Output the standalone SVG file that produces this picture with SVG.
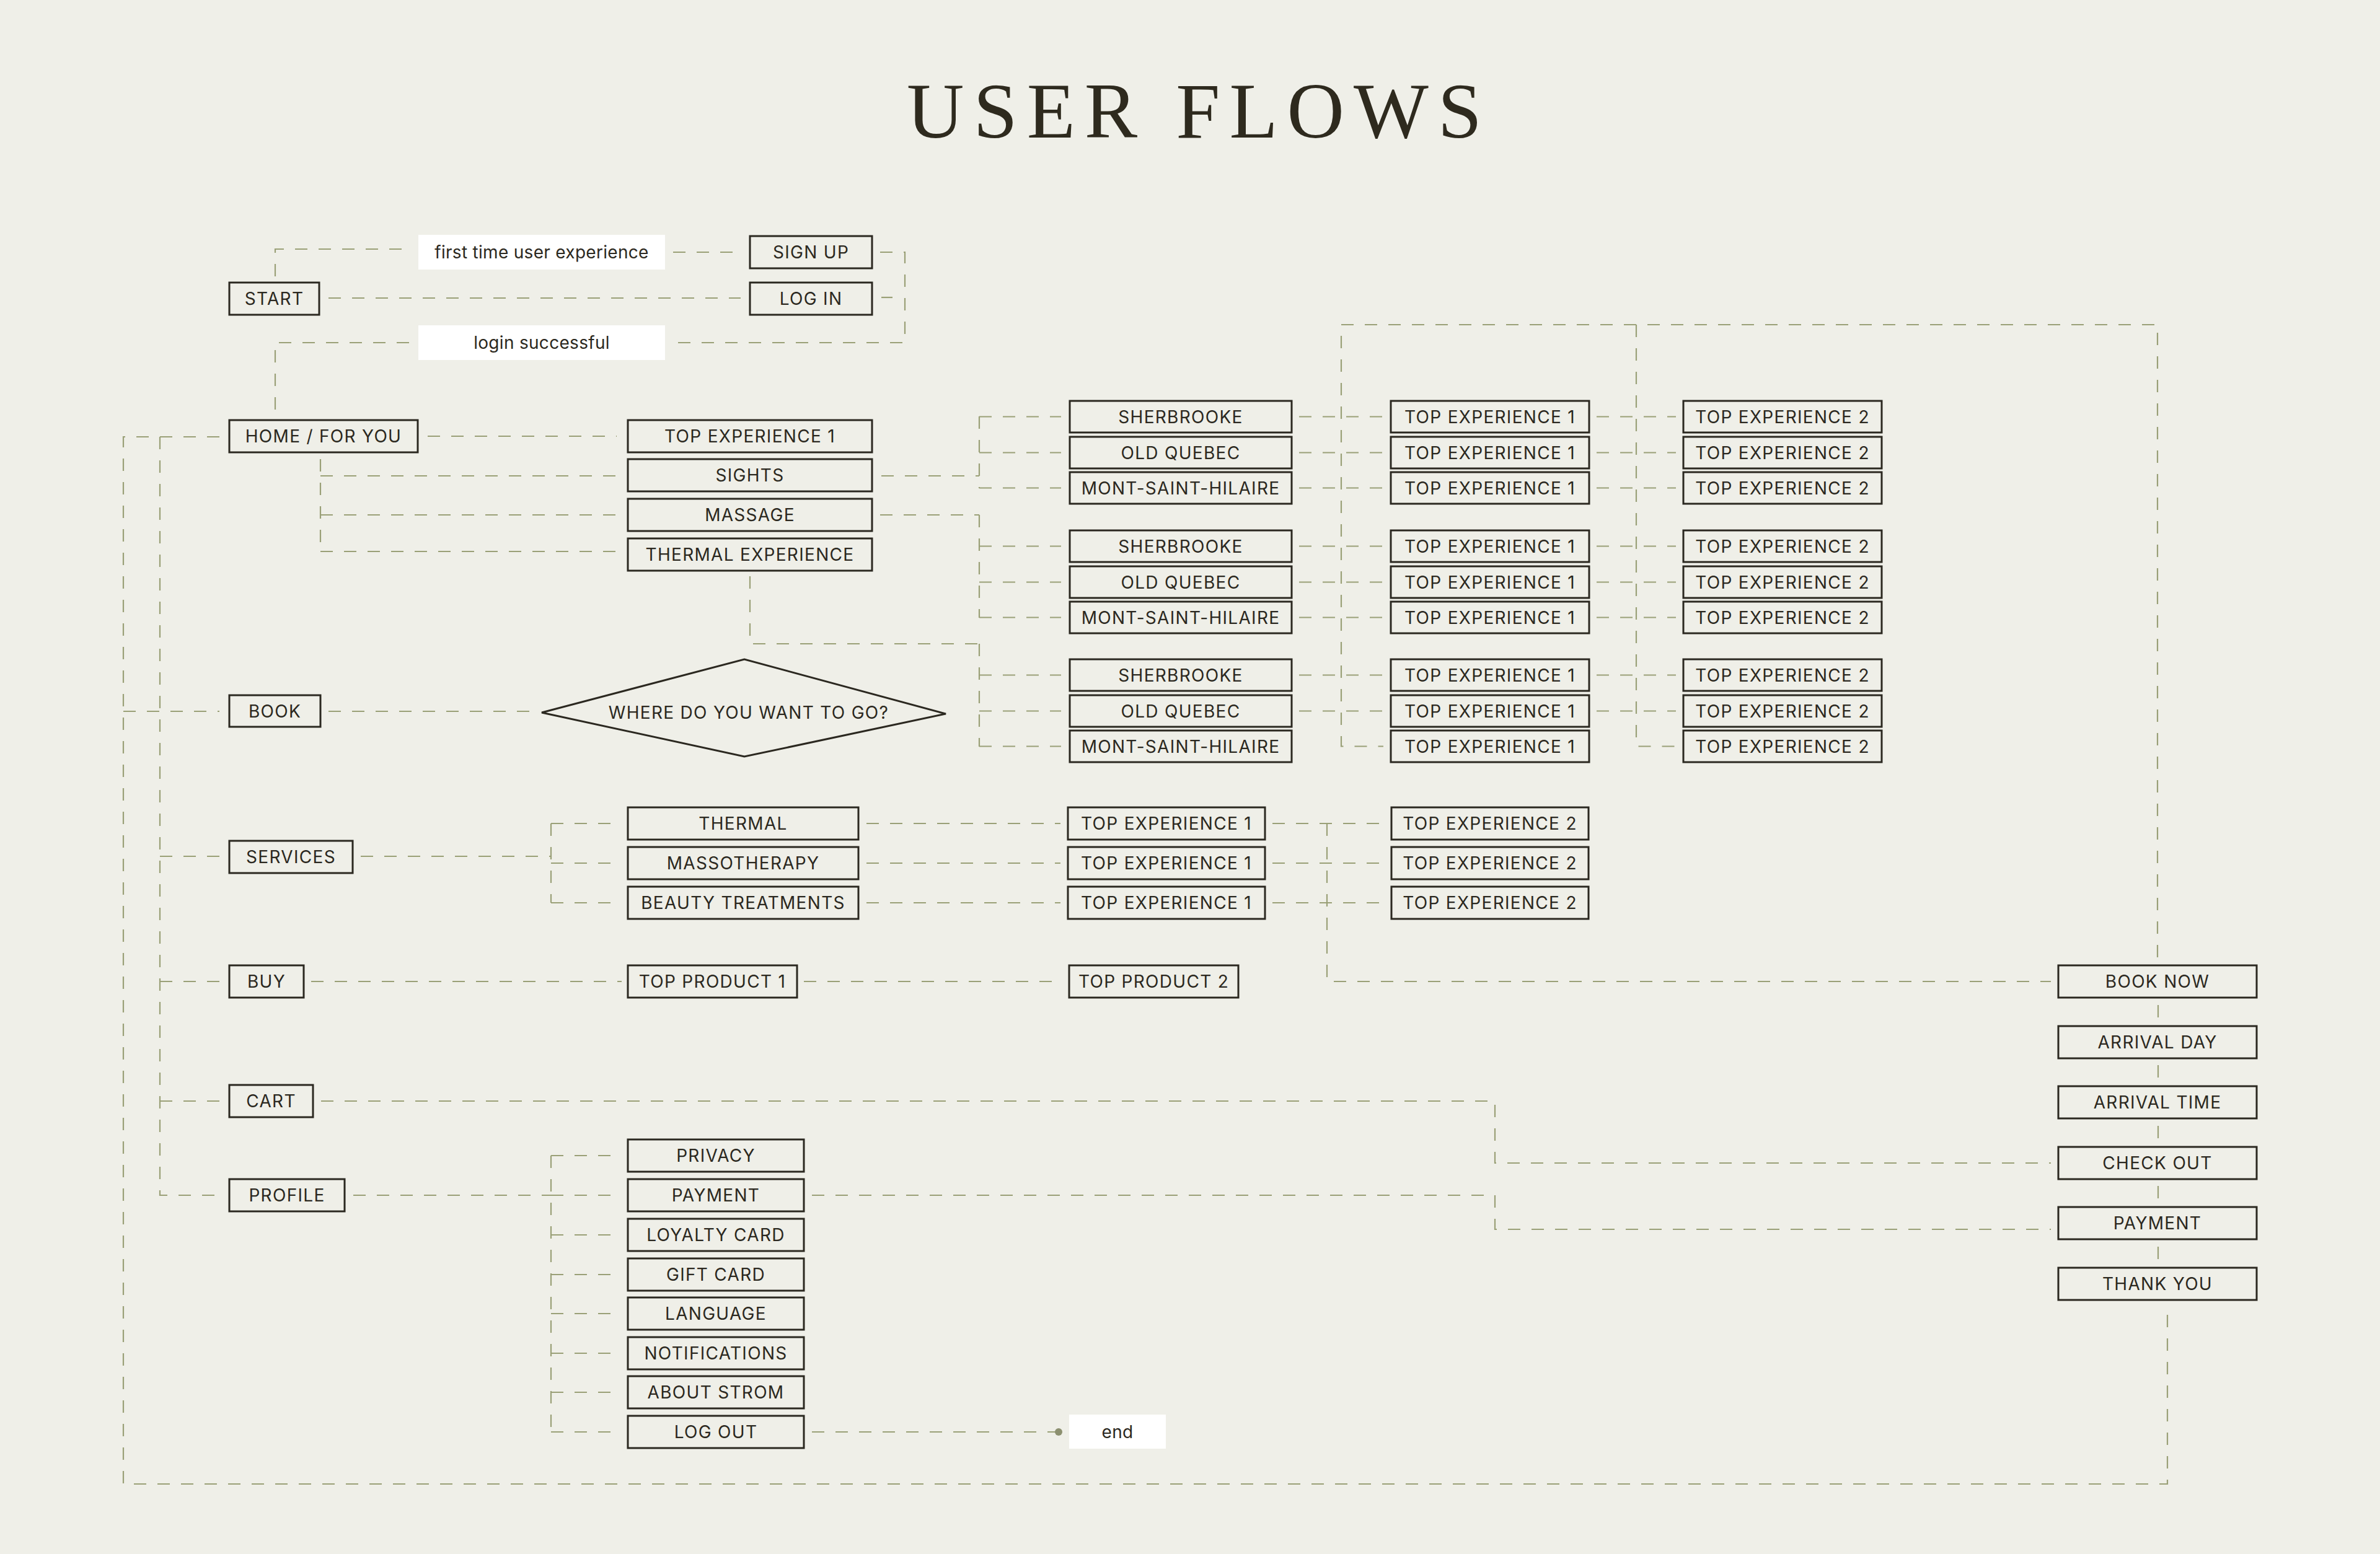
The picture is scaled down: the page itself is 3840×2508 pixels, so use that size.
<svg xmlns="http://www.w3.org/2000/svg" width="3840" height="2508" viewBox="0 0 3840 2508">
<style>
.bg{fill:#efefe8}
.n rect{fill:#efefe8;stroke:#2b2820;stroke-width:3}
.n polygon{fill:#efefe8;stroke:#2b2820;stroke-width:3}
.n text,.lab text{font-family:Inter,"Noto Sans","Liberation Sans",sans-serif;font-size:28px;fill:#2b2820;text-anchor:middle;letter-spacing:1.3px}
.lab rect{fill:#ffffff}
.lab text{letter-spacing:0.3px}
.c path{fill:none;stroke:#9aa077;stroke-width:2.2;stroke-dasharray:20 18}
.title{font-family:"Liberation Serif","DejaVu Serif",serif;font-size:128px;fill:#2e2a1e;letter-spacing:15px}
</style>
<rect class="bg" x="0" y="0" width="3840" height="2508"/>
<text class="title" x="1463" y="222">USER FLOWS</text>

<g class="c" id="connectors">
<path d="M444,446 V402 H660"/>
<path d="M1086,407 H1195"/>
<path d="M530,481 H1195"/>
<path d="M1420,407 H1460 V553 H1086"/>
<path d="M1422,480 H1440"/>
<path d="M660,553 H444 V668"/>
<path d="M690,704 H995"/>
<path d="M517,741 V890"/>
<path d="M517,768 H995"/>
<path d="M517,831 H995"/>
<path d="M517,890 H995"/>
<path d="M1422,768 H1580"/>
<path d="M1420,831 H1580"/>
<path d="M1210,930 V1039 H1580"/>
<path d="M1580,672 V788"/>
<path d="M1580,831 V997"/>
<path d="M1580,1039 V1205"/>
<path d="M1580,672.5 H1712 M1580,730.5 H1712 M1580,787.5 H1712 M1580,881.5 H1712 M1580,939.5 H1712 M1580,996.5 H1712 M1580,1089.5 H1712 M1580,1147.5 H1712 M1580,1204.5 H1712"/>
<path d="M2096,672.5 H2232 M2096,730.5 H2232 M2096,787.5 H2232 M2096,881.5 H2232 M2096,939.5 H2232 M2096,996.5 H2232 M2096,1089.5 H2232 M2096,1147.5 H2232"/>
<path d="M2576,672.5 H2704 M2576,730.5 H2704 M2576,787.5 H2704 M2576,881.5 H2704 M2576,939.5 H2704 M2576,996.5 H2704 M2576,1089.5 H2704 M2576,1147.5 H2704"/>
<path d="M3481,1545 V524 H2164 V1204.5 H2232"/>
<path d="M2640,524 V1204.5 H2704"/>
<path d="M354,705 H199 V2395 H3497 V2110"/>
<path d="M258,705 V1929 H354"/>
<path d="M199,1148 H354"/>
<path d="M258,1382 H356"/>
<path d="M258,1584 H356"/>
<path d="M258,1777 H356"/>
<path d="M530,1148 H862"/>
<path d="M582,1382 H889"/>
<path d="M889,1329 V1457"/>
<path d="M889,1329 H1003 M889,1393 H1003 M889,1457 H1003"/>
<path d="M1398,1329 H1711 M1398,1393 H1711 M1398,1457 H1711"/>
<path d="M2053,1329 H2233 M2053,1393 H2233 M2053,1457 H2233"/>
<path d="M2141,1329 V1584 H3309"/>
<path d="M502,1584 H1003"/>
<path d="M1297,1584 H1714"/>
<path d="M3482,1622 V1646 M3482,1719 V1743 M3482,1817 V1841 M3482,1914 V1938 M3482,2012 V2036"/>
<path d="M518,1777 H2412 V1877 H3309"/>
<path d="M570,1929 H889"/>
<path d="M889,1865 V2311"/>
<path d="M889,1865 H1001 M889,1929 H1001 M889,1993 H1001 M889,2057 H1001 M889,2120 H1001 M889,2184 H1001 M889,2247 H1001 M889,2311 H1001"/>
<path d="M1310,1929 H2412 V1984 H3309"/>
<path d="M1310,2311 H1708"/>
<circle cx="1708" cy="2311" r="6" fill="#8c9070"/>
</g>

<g class="lab" id="lbl-first"><rect x="675" y="379" width="398" height="56"/><text x="874" y="417">first time user experience</text></g>
<g class="lab" id="lbl-login"><rect x="675" y="525" width="398" height="56"/><text x="874" y="563">login successful</text></g>
<g class="lab" id="lbl-end"><rect x="1725" y="2283" width="156" height="55"/><text x="1803" y="2321">end</text></g>

<g class="n" id="start"><rect x="370" y="456" width="145" height="52"/><text x="442.5" y="492">START</text></g>
<g class="n" id="signup"><rect x="1210" y="381" width="197" height="52"/><text x="1308.5" y="417">SIGN UP</text></g>
<g class="n" id="loginbox"><rect x="1210" y="456" width="197" height="52"/><text x="1308.5" y="492">LOG IN</text></g>
<g class="n" id="home"><rect x="370" y="678" width="304" height="52"/><text x="522" y="714">HOME / FOR YOU</text></g>
<g class="n" id="home-top1"><rect x="1013" y="678" width="394" height="52"/><text x="1210" y="714">TOP EXPERIENCE 1</text></g>
<g class="n" id="sights"><rect x="1013" y="741" width="394" height="52"/><text x="1210" y="777">SIGHTS</text></g>
<g class="n" id="massage"><rect x="1013" y="805" width="394" height="52"/><text x="1210" y="841">MASSAGE</text></g>
<g class="n" id="thermalexp"><rect x="1013" y="869" width="394" height="52"/><text x="1210" y="905">THERMAL EXPERIENCE</text></g>
<g class="n" id="book"><rect x="370" y="1122" width="147" height="51"/><text x="443.5" y="1158">BOOK</text></g>
<g class="n" id="where"><polygon points="874,1150 1201,1064 1526,1152 1201,1221"/><text x="1208" y="1160">WHERE DO YOU WANT TO GO?</text></g>

<g class="n" id="g1-sher"><rect x="1726" y="647" width="358" height="51"/><text x="1905" y="682.5">SHERBROOKE</text></g>
<g class="n" id="g1-oq"><rect x="1726" y="705" width="358" height="51"/><text x="1905" y="740.5">OLD QUEBEC</text></g>
<g class="n" id="g1-msh"><rect x="1726" y="762" width="358" height="51"/><text x="1905" y="797.5">MONT-SAINT-HILAIRE</text></g>
<g class="n" id="g2-sher"><rect x="1726" y="856" width="358" height="51"/><text x="1905" y="891.5">SHERBROOKE</text></g>
<g class="n" id="g2-oq"><rect x="1726" y="914" width="358" height="51"/><text x="1905" y="949.5">OLD QUEBEC</text></g>
<g class="n" id="g2-msh"><rect x="1726" y="971" width="358" height="51"/><text x="1905" y="1006.5">MONT-SAINT-HILAIRE</text></g>
<g class="n" id="g3-sher"><rect x="1726" y="1064" width="358" height="51"/><text x="1905" y="1099.5">SHERBROOKE</text></g>
<g class="n" id="g3-oq"><rect x="1726" y="1122" width="358" height="51"/><text x="1905" y="1157.5">OLD QUEBEC</text></g>
<g class="n" id="g3-msh"><rect x="1726" y="1179" width="358" height="51"/><text x="1905" y="1214.5">MONT-SAINT-HILAIRE</text></g>

<g class="n" id="g1-te1a"><rect x="2244" y="647" width="320" height="51"/><text x="2404" y="682.5">TOP EXPERIENCE 1</text></g>
<g class="n" id="g1-te1b"><rect x="2244" y="705" width="320" height="51"/><text x="2404" y="740.5">TOP EXPERIENCE 1</text></g>
<g class="n" id="g1-te1c"><rect x="2244" y="762" width="320" height="51"/><text x="2404" y="797.5">TOP EXPERIENCE 1</text></g>
<g class="n" id="g2-te1a"><rect x="2244" y="856" width="320" height="51"/><text x="2404" y="891.5">TOP EXPERIENCE 1</text></g>
<g class="n" id="g2-te1b"><rect x="2244" y="914" width="320" height="51"/><text x="2404" y="949.5">TOP EXPERIENCE 1</text></g>
<g class="n" id="g2-te1c"><rect x="2244" y="971" width="320" height="51"/><text x="2404" y="1006.5">TOP EXPERIENCE 1</text></g>
<g class="n" id="g3-te1a"><rect x="2244" y="1064" width="320" height="51"/><text x="2404" y="1099.5">TOP EXPERIENCE 1</text></g>
<g class="n" id="g3-te1b"><rect x="2244" y="1122" width="320" height="51"/><text x="2404" y="1157.5">TOP EXPERIENCE 1</text></g>
<g class="n" id="g3-te1c"><rect x="2244" y="1179" width="320" height="51"/><text x="2404" y="1214.5">TOP EXPERIENCE 1</text></g>

<g class="n" id="g1-te2a"><rect x="2716" y="647" width="320" height="51"/><text x="2876" y="682.5">TOP EXPERIENCE 2</text></g>
<g class="n" id="g1-te2b"><rect x="2716" y="705" width="320" height="51"/><text x="2876" y="740.5">TOP EXPERIENCE 2</text></g>
<g class="n" id="g1-te2c"><rect x="2716" y="762" width="320" height="51"/><text x="2876" y="797.5">TOP EXPERIENCE 2</text></g>
<g class="n" id="g2-te2a"><rect x="2716" y="856" width="320" height="51"/><text x="2876" y="891.5">TOP EXPERIENCE 2</text></g>
<g class="n" id="g2-te2b"><rect x="2716" y="914" width="320" height="51"/><text x="2876" y="949.5">TOP EXPERIENCE 2</text></g>
<g class="n" id="g2-te2c"><rect x="2716" y="971" width="320" height="51"/><text x="2876" y="1006.5">TOP EXPERIENCE 2</text></g>
<g class="n" id="g3-te2a"><rect x="2716" y="1064" width="320" height="51"/><text x="2876" y="1099.5">TOP EXPERIENCE 2</text></g>
<g class="n" id="g3-te2b"><rect x="2716" y="1122" width="320" height="51"/><text x="2876" y="1157.5">TOP EXPERIENCE 2</text></g>
<g class="n" id="g3-te2c"><rect x="2716" y="1179" width="320" height="51"/><text x="2876" y="1214.5">TOP EXPERIENCE 2</text></g>

<g class="n" id="services"><rect x="370" y="1357" width="199" height="52"/><text x="469.5" y="1393">SERVICES</text></g>
<g class="n" id="thermal"><rect x="1013" y="1303" width="372" height="52"/><text x="1199" y="1339">THERMAL</text></g>
<g class="n" id="masso"><rect x="1013" y="1367" width="372" height="52"/><text x="1199" y="1403">MASSOTHERAPY</text></g>
<g class="n" id="beauty"><rect x="1013" y="1431" width="372" height="52"/><text x="1199" y="1467">BEAUTY TREATMENTS</text></g>
<g class="n" id="s-te1a"><rect x="1723" y="1303" width="318" height="52"/><text x="1882" y="1339">TOP EXPERIENCE 1</text></g>
<g class="n" id="s-te1b"><rect x="1723" y="1367" width="318" height="52"/><text x="1882" y="1403">TOP EXPERIENCE 1</text></g>
<g class="n" id="s-te1c"><rect x="1723" y="1431" width="318" height="52"/><text x="1882" y="1467">TOP EXPERIENCE 1</text></g>
<g class="n" id="s-te2a"><rect x="2245" y="1303" width="318" height="52"/><text x="2404" y="1339">TOP EXPERIENCE 2</text></g>
<g class="n" id="s-te2b"><rect x="2245" y="1367" width="318" height="52"/><text x="2404" y="1403">TOP EXPERIENCE 2</text></g>
<g class="n" id="s-te2c"><rect x="2245" y="1431" width="318" height="52"/><text x="2404" y="1467">TOP EXPERIENCE 2</text></g>

<g class="n" id="buy"><rect x="370" y="1558" width="120" height="52"/><text x="430" y="1594">BUY</text></g>
<g class="n" id="tp1"><rect x="1013" y="1558" width="273" height="52"/><text x="1149.5" y="1594">TOP PRODUCT 1</text></g>
<g class="n" id="tp2"><rect x="1725" y="1558" width="273" height="52"/><text x="1861.5" y="1594">TOP PRODUCT 2</text></g>

<g class="n" id="cart"><rect x="370" y="1751" width="135" height="52"/><text x="437.5" y="1787">CART</text></g>
<g class="n" id="profile"><rect x="370" y="1903" width="186" height="52"/><text x="463" y="1939">PROFILE</text></g>
<g class="n" id="privacy"><rect x="1013" y="1839" width="284" height="52"/><text x="1155" y="1875">PRIVACY</text></g>
<g class="n" id="p-payment"><rect x="1013" y="1903" width="284" height="52"/><text x="1155" y="1939">PAYMENT</text></g>
<g class="n" id="loyalty"><rect x="1013" y="1967" width="284" height="52"/><text x="1155" y="2003">LOYALTY CARD</text></g>
<g class="n" id="gift"><rect x="1013" y="2031" width="284" height="52"/><text x="1155" y="2067">GIFT CARD</text></g>
<g class="n" id="language"><rect x="1013" y="2094" width="284" height="52"/><text x="1155" y="2130">LANGUAGE</text></g>
<g class="n" id="notifications"><rect x="1013" y="2158" width="284" height="52"/><text x="1155" y="2194">NOTIFICATIONS</text></g>
<g class="n" id="about"><rect x="1013" y="2221" width="284" height="52"/><text x="1155" y="2257">ABOUT STROM</text></g>
<g class="n" id="logout"><rect x="1013" y="2285" width="284" height="52"/><text x="1155" y="2321">LOG OUT</text></g>

<g class="n" id="booknow"><rect x="3321" y="1558" width="320" height="52"/><text x="3481" y="1594">BOOK NOW</text></g>
<g class="n" id="arrday"><rect x="3321" y="1656" width="320" height="52"/><text x="3481" y="1692">ARRIVAL DAY</text></g>
<g class="n" id="arrtime"><rect x="3321" y="1753" width="320" height="52"/><text x="3481" y="1789">ARRIVAL TIME</text></g>
<g class="n" id="checkout"><rect x="3321" y="1851" width="320" height="52"/><text x="3481" y="1887">CHECK OUT</text></g>
<g class="n" id="r-payment"><rect x="3321" y="1948" width="320" height="52"/><text x="3481" y="1984">PAYMENT</text></g>
<g class="n" id="thankyou"><rect x="3321" y="2046" width="320" height="52"/><text x="3481" y="2082">THANK YOU</text></g>
</svg>
